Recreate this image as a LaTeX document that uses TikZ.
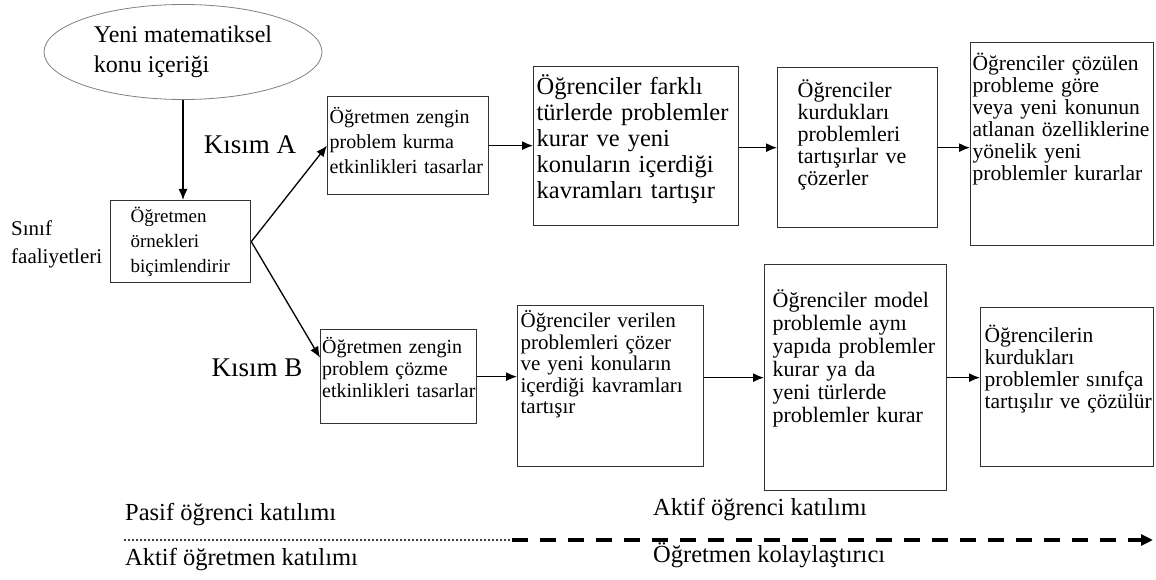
\documentclass[tikz,border=0pt]{standalone}
\usepackage{fontspec}
\setmainfont{Liberation Serif}
\usetikzlibrary{shapes.geometric,arrows.meta}
\hyphenpenalty=10000
\begin{document}
\begin{tikzpicture}[x=1pt, y=-1pt,
box/.style={draw=black!80, line width=1.3pt, anchor=north west, align=left, inner ysep=4pt, inner xsep=3pt},
ell/.style={ellipse, draw=black!50, line width=0.8pt, minimum width=278pt, minimum height=95pt, inner sep=0pt, align=left, font=\fontsize{24}{30}\selectfont},
arr/.style={-{Latex[length=11pt,width=9pt]}, line width=1.3pt},
part/.style={font=\fontsize{27}{30}\selectfont},
note/.style={anchor=west, inner sep=0pt, font=\fontsize{24.5}{26}\selectfont}]
\useasboundingbox (0,0) rectangle (1156,580);
\node[ell] (yeni) at (183,52) {Yeni matematiksel\\konu içeriği};
\node[anchor=west, align=left, inner sep=0pt, font=\fontsize{21}{28}\selectfont] (sinif) at (11,244) {Sınıf\\faaliyetleri};
\node[box, inner xsep=20pt, text width=100pt, text height=18pt, text depth=56pt, font=\fontsize{19}{25}\selectfont] (o) at (110,200) {Öğretmen\\örnekleri\\biçimlendirir};
\node[part] (kA) at (250,145) {Kısım A};
\node[part] (kB) at (257,368) {Kısım B};
\node[box, inner xsep=2pt, text width=157pt, text height=23pt, text depth=67pt, font=\fontsize{20}{25}\selectfont] (a1) at (327,96) {Öğretmen~zengin\\problem~kurma\\etkinlikleri~tasarlar};
\node[box, text width=199pt, text height=24pt, text depth=127pt, font=\fontsize{24.5}{26}\selectfont] (a2) at (533,66) {Öğrenciler~farklı\\türlerde~problemler\\kurar~ve~yeni\\konuların~içerdiği\\kavramları~tartışır};
\node[box, inner xsep=20pt, text width=120pt, text height=26pt, text depth=126pt, font=\fontsize{22}{22}\selectfont] (a3) at (777,67) {Öğrenciler\\kurdukları\\problemleri\\tartışırlar~ve\\çözerler};
\node[box, inner xsep=2pt, text width=179pt, text height=24pt, text depth=171pt, font=\fontsize{21.5}{22}\selectfont] (a4) at (970,42) {Öğrenciler~çözülen\\probleme~göre\\veya~yeni~konunun\\atlanan~özelliklerine\\yönelik~yeni\\problemler~kurarlar};
\node[box, inner xsep=1.5pt, text width=153pt, text height=20pt, text depth=66pt, font=\fontsize{20}{22}\selectfont] (b1) at (320,329) {Öğretmen~zengin\\problem~çözme\\etkinlikleri~tasarlar};
\node[box, text width=180pt, text height=18pt, text depth=135pt, font=\fontsize{21}{21.5}\selectfont] (b2) at (517,305) {Öğrenciler~verilen\\problemleri~çözer\\ve~yeni~konuların\\içerdiği~kavramları\\tartışır};
\node[box, inner xsep=8pt, text width=166pt, text height=39pt, text depth=179pt, font=\fontsize{22}{23}\selectfont] (b3) at (764,264) {Öğrenciler~model\\problemle~aynı\\yapıda~problemler\\kurar~ya~da\\yeni~türlerde\\problemler~kurar};
\node[box, inner xsep=4pt, text width=165pt, text height=31pt, text depth=120pt, font=\fontsize{21.5}{22}\selectfont] (b4) at (980,307) {Öğrencilerin\\kurdukları\\problemler~sınıfça\\tartışılır~ve~çözülür};
\draw[arr] (yeni.south) -- (yeni.south |- o.north);
\draw[arr] (o.east) -- (a1.west);
\draw[arr] (o.east) -- ([yshift=19pt]b1.west);
\draw[arr] (a1.east) -- (a1.east -| a2.west);
\draw[arr] (a2.east |- a3.west) -- (a3.west);
\draw[arr] (a3.east) -- (a3.east -| a4.west);
\draw[arr] (b1.east) -- (b1.east -| b2.west);
\draw[arr] (b2.east |- b3.west) -- (b3.west);
\draw[arr] (b3.east) -- (b3.east -| b4.west);
\node[note] (pasif) at (125,515) {Pasif öğrenci katılımı};
\node[note] (aktifogr) at (125,560) {Aktif öğretmen katılımı};
\node[note] (aktifogrenci) at (653,510) {Aktif öğrenci katılımı};
\node[note] (kolay) at (653,555) {Öğretmen kolaylaştırıcı};
\coordinate (p0) at (125,540);
\coordinate (p1) at (512,540);
\coordinate (p2) at (1153,540);
\draw[line width=2.4pt, line cap=round, dash pattern=on 0pt off 4pt] (p0) -- (p1);
\draw[line width=3.2pt, dash pattern=on 16pt off 12pt, -{Triangle[length=12pt,width=11pt]}] (p1) -- (p2);
\end{tikzpicture}
\end{document}
